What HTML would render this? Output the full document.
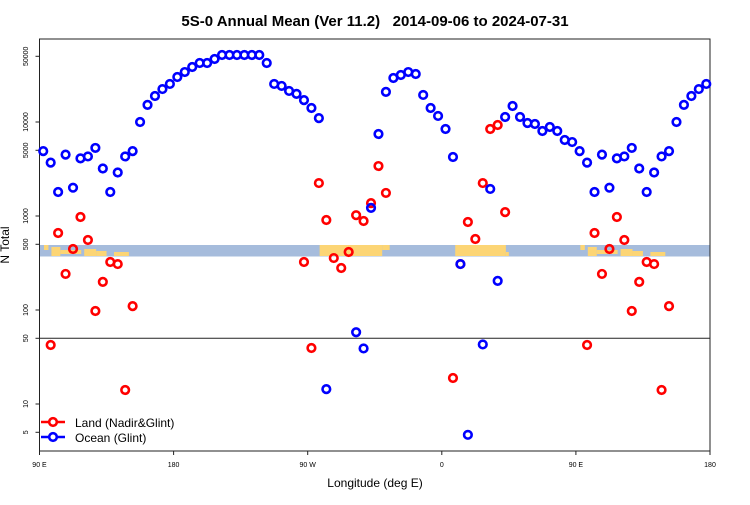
<!DOCTYPE html>
<html><head><meta charset="utf-8"><style>
body{margin:0;background:#fff;}
svg text{font-family:"Liberation Sans",sans-serif;}
</style></head><body>
<svg id="chart" width="750" height="500" xmlns="http://www.w3.org/2000/svg">
<text x="375" y="26" text-anchor="middle" font-size="15" font-weight="bold">5S-0 Annual Mean (Ver 11.2)&#160;&#160;&#160;2014-09-06 to 2024-07-31</text>
<text x="375" y="487" text-anchor="middle" font-size="12">Longitude (deg E)</text>
<text transform="translate(9,245) rotate(-90)" text-anchor="middle" font-size="12">N Total</text>
<g id="band"></g>
<g id="axes"></g>
<g id="marks"></g>
<g>
<g>
<line x1="41" y1="422" x2="65" y2="422" stroke="#f00" stroke-width="2.5"/>
<circle cx="53" cy="422" r="3.8" fill="#fff" stroke="#f00" stroke-width="2.6"/>
<text x="75" y="427" font-size="12">Land (Nadir&amp;Glint)</text></g>
<g>
<line x1="41" y1="437" x2="65" y2="437" stroke="#00f" stroke-width="2.5"/>
<circle cx="53" cy="437" r="3.8" fill="#fff" stroke="#00f" stroke-width="2.6"/>
<text x="75" y="442" font-size="12">Ocean (Glint)</text></g>
</g>
</svg>
<script>
const oceanLon=[92.5,97.5,102.5,107.5,112.5,117.5,122.5,127.5,132.5,137.5,142.5,147.5,152.5,157.5,162.5,167.5,172.5,177.5,-177.5,-172.5,-167.5,-162.5,-157.5,-152.5,-147.5,-142.5,-137.5,-132.5,-127.5,-122.5,-117.5,-112.5,-107.5,-102.5,-97.5,-92.5,-87.5,-82.5,-77.5,-57.5,-52.5,-47.5,-42.5,-37.5,-32.5,-27.5,-22.5,-17.5,-12.5,-7.5,-2.5,2.5,7.5,12.5,17.5,27.5,32.5,37.5,42.5,47.5,52.5,57.5,62.5,67.5,72.5,77.5,82.5,87.5];
const oceanVal=[4900,3700,1800,4500,2000,4100,4300,5300,3200,1800,2900,4300,4900,10000,15200,18900,22400,25400,30100,34000,38500,42400,42400,46800,51600,51600,51600,51600,51600,51600,42400,25400,24200,21400,19900,17100,14100,11000,14.4,58,39,1220,7450,20900,29400,31600,34000,32400,19400,14100,11600,8430,4240,308,4.7,43,1940,204,11300,14800,11300,9760,9530,8020,8850,8020,6440,6120];
const landLon=[97.5,102.5,107.5,112.5,117.5,122.5,127.5,132.5,137.5,142.5,147.5,152.5,-92.5,-87.5,-82.5,-77.5,-72.5,-67.5,-62.5,-57.5,-52.5,-47.5,-42.5,-37.5,7.5,12.5,17.5,22.5,27.5,32.5,37.5,42.5];
const landVal=[42.4,660,242,446,976,556,97.5,199,324,308,14.1,110,324,39.4,2240,906,357,280,414,1020,885,1370,3400,1760,18.9,308,863,569,2240,8430,9290,1100];
const yTicks=[5,10,50,100,500,1000,5000,10000,50000];
const xTickLon=[90,180,-90,0,90,180];
const xTickLabels=["90 E","180","90 W","0","90 E","180"];
const X0=39.5,X1=710,Y0=39,Y1=451;
const NS="http://www.w3.org/2000/svg";
function deg(lon){return ((lon-90)%360+360)%360;}
function xs(d){return X0+(X1-X0)*d/450;}
function ys(v){return 216-94*(Math.log10(v)-3);}
function mk(tag,attrs,parent){const e=document.createElementNS(NS,tag);for(const k in attrs)e.setAttribute(k,attrs[k]);parent.appendChild(e);return e;}
const axes=document.getElementById('axes'),marks=document.getElementById('marks'),band=document.getElementById('band');
const b=mk('rect',{x:X0,y:245,width:X1-X0,height:11.5,fill:'#a6bcdc'},band);


const landSegs=[[93,96,245,250],[98,104,247,256],[104,118,250,254],[120,128,249,256],[128,135,251,256],[140,150,252,256],[-82,-40,245,256],[-40,-35,245,250],[9,43,245,256],[43,45,252,256]];
for(const s of landSegs){for(const off of [0,360]){const d0=deg(s[0])+off,d1=deg(s[1])+off;if(d0>450||d1<d0)continue;
const r=mk('rect',{x:xs(d0),y:s[2],width:xs(Math.min(d1,450))-xs(d0),height:s[3]-s[2],fill:'#fcd575'},band);

}}
mk('rect',{x:X0,y:Y0,width:X1-X0,height:Y1-Y0,fill:'none',stroke:'#222','stroke-width':1},axes);
const hl=mk('line',{x1:X0,x2:X1,y1:ys(50),y2:ys(50),stroke:'#222','stroke-width':1},axes);


for(const t of yTicks){const y=ys(t);mk('line',{x1:X0-4,x2:X0,y1:y,y2:y,stroke:'#222'},axes);
const tx=mk('text',{transform:`translate(28,${y}) rotate(-90)`,'text-anchor':'middle','font-size':7},axes);tx.textContent=t;

}
xTickLon.forEach((l,i)=>{let d=deg(l);if(i>=4)d+=360;const x=xs(d);
mk('line',{x1:x,x2:x,y1:Y1,y2:Y1+4,stroke:'#222'},axes);
const tx=mk('text',{x:x,y:467,'text-anchor':'middle','font-size':7},axes);tx.textContent=xTickLabels[i];

});
function plot(lons,vals,color,name){lons.forEach((l,i)=>{for(const off of [0,360]){const d=deg(l)+off;if(d>450)continue;
const c=mk('circle',{cx:xs(d),cy:ys(vals[i]),r:3.8,fill:'none',stroke:color,'stroke-width':2.6},marks);

}});}
plot(landLon,landVal,'#f00','land-point');
plot(oceanLon,oceanVal,'#00f','ocean-point');
</script>
</body></html>
